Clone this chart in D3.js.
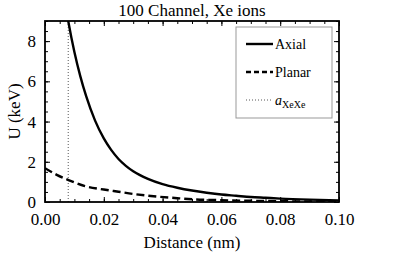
<!DOCTYPE html>
<html>
<head>
<meta charset="utf-8">
<script src="https://cdnjs.cloudflare.com/ajax/libs/d3/7.8.5/d3.min.js"></script>
<style>
  body { margin: 0; background: #fff; }
</style>
</head>
<body>
<div id="chart"></div>
<script>
// data
var title = "100 Channel, Xe ions";
var xTicks = [0, 0.02, 0.04, 0.06, 0.08, 0.10];
var yTicks = [0, 2, 4, 6, 8];
var axialX = [0.0070, 0.0079, 0.010, 0.012, 0.014, 0.017, 0.020, 0.0225, 0.025, 0.0275, 0.030, 0.035, 0.040, 0.045, 0.050, 0.055, 0.060, 0.065, 0.070, 0.075, 0.080, 0.090, 0.100];
var axialU = [9.76, 9.0, 7.46, 6.26, 5.26, 4.06, 3.16, 2.59, 2.14, 1.80, 1.53, 1.15, 0.89, 0.71, 0.57, 0.46, 0.37, 0.31, 0.25, 0.21, 0.17, 0.116, 0.08];
var planarX = [0.000, 0.004, 0.008, 0.0136, 0.020, 0.025, 0.030, 0.036, 0.045, 0.051, 0.060, 0.070, 0.080, 0.090, 0.100];
var planarU = [1.68, 1.35, 1.09, 0.79, 0.62, 0.51, 0.40, 0.30, 0.19, 0.13, 0.09, 0.06, 0.04, 0.025, 0.015];
var aXeXe = 0.0079;

var W = 414, H = 259;
var serif = "'Liberation Serif', 'Times New Roman', serif";
var margin = { top: 21, right: 75, bottom: 57, left: 45 };
var width = W - margin.left - margin.right, height = H - margin.top - margin.bottom;

var x = d3.scaleLinear().domain([0, 0.10]).range([0, width]);
var y = d3.scaleLinear().domain([0, 9]).range([height, 0]);

var svg = d3.select("#chart").append("svg").attr("width", W).attr("height", H)
  .attr("font-family", serif)
  .append("g").attr("transform", "translate(" + margin.left + "," + margin.top + ")");

svg.append("clipPath").attr("id", "plotclip").append("rect")
  .attr("width", width).attr("height", height);

var plot = svg.append("g").attr("clip-path", "url(#plotclip)");

// vertical dotted line at a_XeXe
plot.append("line").attr("x1", x(aXeXe)).attr("x2", x(aXeXe))
  .attr("y1", 0).attr("y2", height)
  .attr("stroke", "#444").attr("stroke-width", 0.9).attr("stroke-dasharray", "1,2");

var line = d3.line().x(function (d) { return x(d[0]); }).y(function (d) { return y(d[1]); })
  .curve(d3.curveMonotoneX);

plot.append("path").datum(d3.zip(axialX, axialU)).attr("d", line)
  .attr("fill", "none").attr("stroke", "#000").attr("stroke-width", 2.4);

plot.append("path").datum(d3.zip(planarX, planarU)).attr("d", line)
  .attr("fill", "none").attr("stroke", "#000").attr("stroke-width", 2.4)
  .attr("stroke-dasharray", "8,4");

// axes: ticks inside, on all four sides
var xMinor = d3.range(0, 0.1001, 0.005), yMinor = d3.range(0, 9.01, 0.5);
function tickStyle(g) {
  g.attr("font-family", serif);
  g.select(".domain").remove();
  g.selectAll("line").attr("stroke", "#000").attr("stroke-width", 1);
  g.selectAll("text").attr("font-size", "17px").attr("fill", "#000").attr("font-family", serif);
}
var fmt = d3.format(".2f");

svg.append("g").attr("transform", "translate(0," + height + ")")
  .call(d3.axisBottom(x).tickValues(xMinor).tickSizeInner(-3).tickFormat("")).call(tickStyle);
svg.append("g").attr("transform", "translate(0," + height + ")")
  .call(d3.axisBottom(x).tickValues(xTicks).tickSizeInner(-5).tickPadding(11).tickFormat(fmt)).call(tickStyle);
svg.append("g")
  .call(d3.axisTop(x).tickValues(xMinor).tickSizeInner(-3).tickFormat("")).call(tickStyle);
svg.append("g")
  .call(d3.axisTop(x).tickValues(xTicks).tickSizeInner(-5).tickFormat("")).call(tickStyle);

svg.append("g")
  .call(d3.axisLeft(y).tickValues(yMinor).tickSizeInner(-3).tickFormat("")).call(tickStyle);
svg.append("g")
  .call(d3.axisLeft(y).tickValues(yTicks).tickSizeInner(-5).tickPadding(9).tickFormat(d3.format("d"))).call(tickStyle);
svg.append("g").attr("transform", "translate(" + width + ",0)")
  .call(d3.axisRight(y).tickValues(yMinor).tickSizeInner(-3).tickFormat("")).call(tickStyle);
svg.append("g").attr("transform", "translate(" + width + ",0)")
  .call(d3.axisRight(y).tickValues(yTicks).tickSizeInner(-5).tickFormat("")).call(tickStyle);

// frame
svg.append("rect").attr("width", width).attr("height", height)
  .attr("fill", "none").attr("stroke", "#000").attr("stroke-width", 1.8);

// titles
svg.append("text").attr("x", width / 2).attr("y", -5).attr("text-anchor", "middle")
  .attr("font-size", "17px").text(title);
svg.append("text").attr("x", width / 2).attr("y", height + 46).attr("text-anchor", "middle")
  .attr("font-size", "17px").text("Distance (nm)");
svg.append("text").attr("transform", "rotate(-90)").attr("x", -height / 2).attr("y", -25)
  .attr("text-anchor", "middle").attr("font-size", "17px").text("U (keV)");

// legend
var lg = svg.append("g").attr("transform", "translate(" + (236 - margin.left) + "," + (27 - margin.top) + ")");
lg.append("rect").attr("width", 96).attr("height", 91)
  .attr("fill", "#fff").attr("stroke", "#999").attr("stroke-width", 1);
var items = [
  { label: "Axial", dash: null, w: 2.4, c: "#000", y: 17 },
  { label: "Planar", dash: "5,3", w: 2.4, c: "#000", y: 45 },
  { label: "a", dash: "1,2", w: 0.9, c: "#444", y: 73 }
];
items.forEach(function (it) {
  var l = lg.append("line").attr("x1", 10).attr("x2", 37).attr("y1", it.y).attr("y2", it.y)
    .attr("stroke", it.c).attr("stroke-width", it.w);
  if (it.dash) l.attr("stroke-dasharray", it.dash);
  var t = lg.append("text").attr("x", 39).attr("y", it.y + 5).attr("font-size", "14px");
  if (it.label == "a") {
    t.append("tspan").attr("font-style", "italic").text("a");
    t.append("tspan").attr("dy", 3).attr("font-size", "10px").text("XeXe");
  } else {
    t.text(it.label);
  }
});
</script>
</body>
</html>
